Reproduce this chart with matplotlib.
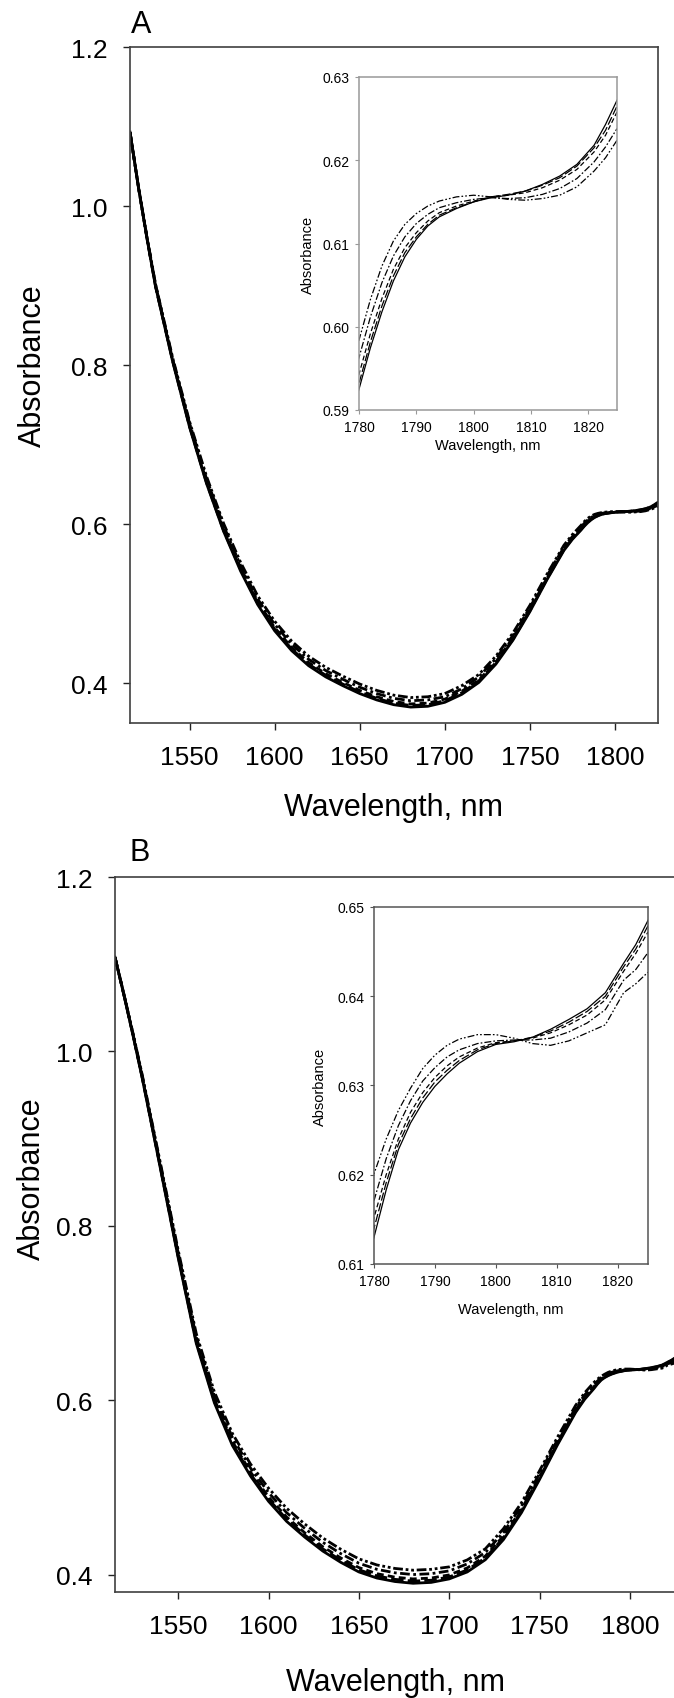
import matplotlib
matplotlib.use("Agg")
import matplotlib.pyplot as plt
import numpy as np

plt.rcParams["font.family"] = ["Liberation Sans", "DejaVu Sans"]
plt.rcParams["lines.scale_dashes"] = False

# wavelength grid, nm
wl = [1515, 1520, 1525, 1530, 1540, 1550, 1560, 1570, 1580, 1590, 1600, 1610, 1620, 1630,
      1640, 1650, 1660, 1670, 1680, 1690, 1700, 1710, 1720, 1730, 1740, 1750, 1760, 1770, 1775,
      1780, 1782, 1784, 1786, 1788, 1790, 1792, 1794, 1797, 1800, 1803, 1806, 1809, 1812, 1815,
      1818, 1821, 1823, 1825]

# panel A spectra
a_solid = [1.093, 1.023, 0.959, 0.899, 0.805, 0.722, 0.651, 0.591, 0.541, 0.499, 0.466, 0.441, 0.422, 0.408,
           0.397, 0.387, 0.379, 0.373, 0.370, 0.371, 0.376, 0.386, 0.401, 0.424, 0.454, 0.490, 0.530, 0.567, 0.581,
           0.5925, 0.5975, 0.6018, 0.6055, 0.6084, 0.6105, 0.6121, 0.6132, 0.6142, 0.6150, 0.6155, 0.6158, 0.6163,
           0.6171, 0.6181, 0.6195, 0.6218, 0.6243, 0.6272]
a_long = [1.093, 1.023, 0.959, 0.899, 0.806, 0.723, 0.652, 0.592, 0.543, 0.501, 0.468, 0.443, 0.424, 0.410,
          0.399, 0.389, 0.381, 0.375, 0.372, 0.373, 0.378, 0.388, 0.403, 0.426, 0.455, 0.491, 0.531, 0.568, 0.582,
          0.5932, 0.5982, 0.6025, 0.6061, 0.6089, 0.6108, 0.6123, 0.6134, 0.6143, 0.6150, 0.6156, 0.6159, 0.6163,
          0.6170, 0.6179, 0.6193, 0.6215, 0.6236, 0.6265]
a_dash = [1.093, 1.023, 0.960, 0.900, 0.807, 0.724, 0.654, 0.594, 0.545, 0.503, 0.470, 0.445, 0.426, 0.412,
          0.401, 0.391, 0.383, 0.377, 0.374, 0.375, 0.380, 0.390, 0.404, 0.427, 0.457, 0.493, 0.532, 0.569, 0.5825,
          0.5943, 0.5992, 0.6034, 0.6069, 0.6095, 0.6113, 0.6127, 0.6137, 0.6145, 0.6151, 0.6156, 0.6158, 0.6161,
          0.6167, 0.6176, 0.6189, 0.6210, 0.6230, 0.6258]
a_dashdot = [1.093, 1.024, 0.960, 0.901, 0.808, 0.727, 0.657, 0.598, 0.548, 0.506, 0.474, 0.449, 0.430, 0.416,
             0.405, 0.395, 0.387, 0.381, 0.378, 0.379, 0.383, 0.393, 0.408, 0.431, 0.460, 0.495, 0.535, 0.571, 0.5845,
             0.5963, 0.6012, 0.6053, 0.6085, 0.6108, 0.6124, 0.6135, 0.6143, 0.6149, 0.6153, 0.6155, 0.6154, 0.6155,
             0.6159, 0.6166, 0.6178, 0.6198, 0.6216, 0.6238]
a_dashdotdot = [1.093, 1.024, 0.961, 0.902, 0.810, 0.729, 0.660, 0.601, 0.552, 0.510, 0.478, 0.453, 0.434, 0.420,
                0.409, 0.399, 0.391, 0.385, 0.382, 0.383, 0.387, 0.397, 0.411, 0.434, 0.463, 0.498, 0.537, 0.5735, 0.587,
                0.5984, 0.6033, 0.6073, 0.6103, 0.6123, 0.6136, 0.6145, 0.6151, 0.6156, 0.6158, 0.6156, 0.6153, 0.6152,
                0.6154, 0.6158, 0.6168, 0.6187, 0.6203, 0.6224]

# panel B spectra
b_solid = [1.108, 1.064, 1.018, 0.970, 0.867, 0.763, 0.665, 0.597, 0.548, 0.513, 0.484, 0.461, 0.443, 0.427,
           0.414, 0.403, 0.396, 0.392, 0.390, 0.391, 0.395, 0.403, 0.417, 0.440, 0.471, 0.509, 0.549, 0.586, 0.601,
           0.6130, 0.6183, 0.6228, 0.6258, 0.6281, 0.6299, 0.6313, 0.6325, 0.6338, 0.6346, 0.6349, 0.6354, 0.6363,
           0.6374, 0.6386, 0.6404, 0.6437, 0.6458, 0.6485]
b_long = [1.108, 1.0642, 1.0184, 0.9706, 0.868, 0.7645, 0.6669, 0.5991, 0.5503, 0.5153, 0.4865, 0.4635, 0.4455, 0.4295,
          0.4165, 0.4055, 0.3985, 0.3945, 0.3925, 0.3935, 0.3973, 0.4053, 0.4191, 0.4421, 0.4729, 0.5107, 0.5505, 0.5874, 0.6023,
          0.6140, 0.6191, 0.6234, 0.6263, 0.6286, 0.6304, 0.6317, 0.6328, 0.6340, 0.6347, 0.6350, 0.6354, 0.6361,
          0.6371, 0.6383, 0.6400, 0.6433, 0.6453, 0.6479]
b_dash = [1.108, 1.0644, 1.0188, 0.9713, 0.8691, 0.7659, 0.6688, 0.6012, 0.5526, 0.5176, 0.489, 0.466, 0.448, 0.432,
          0.419, 0.408, 0.401, 0.397, 0.395, 0.396, 0.3996, 0.4076, 0.4212, 0.4442, 0.4748, 0.5123, 0.5519, 0.5887, 0.6035,
          0.6152, 0.6200, 0.6240, 0.6270, 0.6292, 0.6309, 0.6322, 0.6332, 0.6342, 0.6348, 0.6350, 0.6353, 0.6359,
          0.6368, 0.6379, 0.6396, 0.6428, 0.6448, 0.6472]
b_dashdot = [1.108, 1.0648, 1.0197, 0.9725, 0.8712, 0.7688, 0.6725, 0.6053, 0.5572, 0.5222, 0.494, 0.471, 0.453, 0.437,
             0.424, 0.413, 0.406, 0.402, 0.400, 0.401, 0.4042, 0.4122, 0.4253, 0.4483, 0.4785, 0.5157, 0.5548, 0.5914, 0.606,
             0.6171, 0.6218, 0.6255, 0.6283, 0.6305, 0.6320, 0.6332, 0.6340, 0.6347, 0.6350, 0.6351, 0.6351, 0.6353,
             0.6360, 0.6370, 0.6385, 0.6418, 0.6430, 0.6449]
b_dashdotdot = [1.108, 1.0653, 1.0205, 0.9738, 0.8733, 0.7718, 0.6763, 0.6095, 0.5618, 0.5268, 0.499, 0.476, 0.458, 0.442,
                0.429, 0.418, 0.411, 0.407, 0.405, 0.406, 0.4088, 0.4168, 0.4295, 0.4525, 0.4823, 0.519, 0.5578, 0.5941, 0.6085,
                0.6201, 0.6240, 0.6272, 0.6297, 0.6319, 0.6334, 0.6345, 0.6352, 0.6357, 0.6357, 0.6353, 0.6347, 0.6345,
                0.6350, 0.6359, 0.6368, 0.6404, 0.6414, 0.6427]

main_ticks_x = [1550, 1600, 1650, 1700, 1750, 1800]
main_ticks_y = [0.4, 0.6, 0.8, 1.0, 1.2]
inset_ticks_x = [1780, 1790, 1800, 1810, 1820]
insetA_ticks_y = [0.59, 0.60, 0.61, 0.62, 0.63]
insetB_ticks_y = [0.61, 0.62, 0.63, 0.64, 0.65]

# line styles: solid, long dash, dash, dash-dot, dash-dot-dot
main_dash = [None, (9, 3), (5, 3), (7, 2.5, 2, 2.5), (7, 2, 2, 2, 2, 2)]
inset_dash = [None, (6, 2), (3.5, 2), (5, 1.5, 1.2, 1.5), (5, 1.5, 1.2, 1.5, 1.2, 1.5)]

W, H = 674, 1699
fig = plt.figure(figsize=(W/100, H/100), dpi=100)

def box(l, t, r, b):
    return [l/W, 1 - b/H, (r - l)/W, (b - t)/H]

axA = fig.add_axes(box(130, 48, 657.5, 724))
axB = fig.add_axes(box(115, 878, 675, 1593))
inA = fig.add_axes(box(359, 78, 617, 411))
inB = fig.add_axes(box(374, 908, 648, 1265))

seriesA = [a_solid, a_long, a_dash, a_dashdot, a_dashdotdot]
seriesB = [b_solid, b_long, b_dash, b_dashdot, b_dashdotdot]

for ax, inset, series in [(axA, inA, seriesA), (axB, inB, seriesB)]:
    for k in range(4, -1, -1):
        ln, = ax.plot(wl, series[k], color="black", linewidth=2.0)
        if main_dash[k] is not None:
            ln.set_dashes(main_dash[k])
        ln2, = inset.plot(wl, series[k], color="black", linewidth=0.9)
        if inset_dash[k] is not None:
            ln2.set_dashes(inset_dash[k])

for ax in [axA, axB]:
    ax.set_xlim(1515, 1825)
    ax.set_xticks(main_ticks_x)
    ax.set_yticks(main_ticks_y)
    ax.set_yticklabels(["%.1f" % v for v in main_ticks_y])
    ax.tick_params(direction="out", length=5, width=1, labelsize=19, pad=11, colors="#222222", labelcolor="black")
    for s in ax.spines.values():
        s.set_color("#404040")
        s.set_linewidth(1.2)
    ax.set_xlabel("Wavelength, nm", fontsize=22, va="center")
    ax.set_ylabel("Absorbance", fontsize=22, va="center", ha="center")

axA.set_ylim(0.35, 1.2)
axB.set_ylim(0.38, 1.2)
axB.spines["right"].set_visible(False)
axA.xaxis.set_label_coords(0.5, -0.124)
axA.yaxis.set_label_coords(-0.184, 0.53)
axB.xaxis.set_label_coords(0.5, -0.126)
axB.yaxis.set_label_coords(-0.148, 0.58)

fig.text(141/W, 1 - 25/H, "A", fontsize=22, ha="center", va="center")
fig.text(140/W, 1 - 853/H, "B", fontsize=22, ha="center", va="center")

for inset, yt, col in [(inA, insetA_ticks_y, "#999999"), (inB, insetB_ticks_y, "#555555")]:
    inset.set_xlim(1780, 1825)
    inset.set_ylim(yt[0], yt[-1])
    inset.set_xticks(inset_ticks_x)
    inset.set_yticks(yt)
    inset.set_yticklabels(["%.2f" % v for v in yt])
    inset.tick_params(direction="out", length=3, width=0.8, labelsize=10, pad=4, colors=col, labelcolor="black")
    for s in inset.spines.values():
        s.set_color(col)
        s.set_linewidth(1.1)
    inset.set_xlabel("Wavelength, nm", fontsize=10.5, va="center")
    inset.set_ylabel("Absorbance", fontsize=10.5, va="center", ha="center")

inA.xaxis.set_label_coords(0.5, -0.105)
inA.yaxis.set_label_coords(-0.198, 0.47)
inB.xaxis.set_label_coords(0.5, -0.125)
inB.yaxis.set_label_coords(-0.197, 0.5)

plt.savefig("out.png", dpi=100)
